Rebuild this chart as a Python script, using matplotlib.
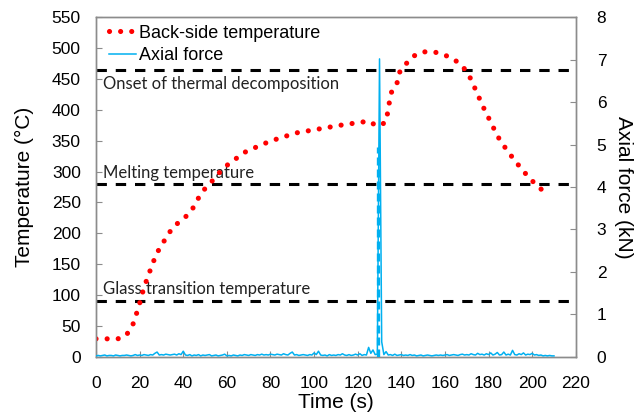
import numpy as np
import matplotlib

matplotlib.use("Agg")
import matplotlib.pyplot as plt

# back-side temperature
temp_time = [0, 5, 10, 13.7, 16.7, 18.2, 19.7, 20.9, 22.5, 24.1, 25.8, 27.6, 30.1,
             32.7, 35.3, 39.1, 42.8, 45.2, 47.4, 50.1, 52.6, 56.2, 60, 63.8, 68,
             72.4, 76.9, 81.3, 86, 90.7, 95.6, 100.5, 105.4, 110.3, 115.2, 120.1,
             125, 128.7, 132.6, 133.8, 134.5, 135.6, 138, 139, 142, 145.5, 150,
             155, 159.8, 164.1, 168, 170.9, 173, 175, 177.1, 179.3, 181.6, 183.7,
             186.3, 189.1, 191.9, 195.3, 198.5, 202.1, 205.8]
temp_vals = [29, 29, 29, 34, 50, 66, 82, 99, 117, 133, 149, 166, 181,
             196, 210, 221, 232, 245, 260, 273, 282, 297, 310, 320, 331,
             338, 345, 351, 356, 362, 365, 368, 371, 374, 377, 379,
             382, 374, 379, 396, 412, 430, 443, 460, 474, 487, 494,
             494, 489, 482, 471, 457, 441, 425, 408, 392, 376, 360,
             345, 332, 318, 304, 290, 278, 266]

# axial force, one sample per second from 0 to 210 s
force_vals = [
    0.02, 0.03, 0.02, 0.03, 0.04, 0.02, 0.03, 0.03, 0.02, 0.04,
    0.03, 0.02, 0.03, 0.03, 0.04, 0.03, 0.02, 0.03, 0.05, 0.03,
    0.04, 0.03, 0.05, 0.04, 0.03, 0.05, 0.04, 0.08, 0.11, 0.04,
    0.05, 0.04, 0.06, 0.05, 0.04, 0.05, 0.06, 0.04, 0.07, 0.05,
    0.13, 0.04, 0.03, 0.05, 0.02, 0.04, 0.03, 0.05, 0.02, 0.04,
    0.03, 0.04, 0.05, 0.02, 0.03, 0.04, 0.02, 0.03, 0.04, 0.06,
    0.02, 0.03, 0.02, 0.04, 0.03, 0.02, 0.04, 0.03, 0.05, 0.04,
    0.03, 0.05, 0.04, 0.03, 0.05, 0.04, 0.06, 0.04, 0.05, 0.04,
    0.06, 0.05, 0.04, 0.06, 0.05, 0.04, 0.07, 0.05, 0.04, 0.08,
    0.11, 0.04, 0.05, 0.03, 0.04, 0.05, 0.04, 0.03, 0.05, 0.04,
    0.09, 0.05, 0.13, 0.04, 0.03, 0.04, 0.02, 0.05, 0.03, 0.04,
    0.03, 0.05, 0.04, 0.07, 0.04, 0.03, 0.05, 0.03, 0.04, 0.06,
    0.04, 0.07, 0.03, 0.05, 0.04, 0.22, 0.08, 0.16, 0.05, 0.06,
    7.02, 0.35, 0.05, 0.12, 0.04, 0.05, 0.03, 0.06, 0.03, 0.04,
    0.05, 0.03, 0.04, 0.03, 0.05, 0.03, 0.04, 0.02, 0.03, 0.04,
    0.02, 0.03, 0.04, 0.03, 0.02, 0.03, 0.04, 0.03, 0.04, 0.03,
    0.04, 0.05, 0.03, 0.04, 0.05, 0.04, 0.03, 0.05, 0.06, 0.04,
    0.05, 0.04, 0.07, 0.05, 0.04, 0.08, 0.05, 0.06, 0.04, 0.07,
    0.05, 0.09, 0.04, 0.06, 0.10, 0.04, 0.05, 0.11, 0.04, 0.06,
    0.04, 0.15, 0.05, 0.04, 0.07, 0.05, 0.09, 0.04, 0.06, 0.05,
    0.08, 0.04, 0.05, 0.03, 0.04, 0.02, 0.03, 0.02, 0.03, 0.02,
    0.02,
]
force_time = np.arange(len(force_vals))

# vertical dashed marker at the force peak
event_time = 129.4
event_top = 4.95  # kN

ref_temps = [465, 280, 91]
ref_labels = ["Onset of thermal decomposition", "Melting temperature",
              "Glass transition temperature"]
ref_offsets = [-23, 18, 18]  # label offset in °C relative to the line

RED = "#FF0000"
BLUE = "#00B0F0"
SPINE = "#8C8C8C"

plt.rcParams["font.family"] = ["Liberation Sans", "DejaVu Sans"]

fig = plt.figure(figsize=(6.38, 4.16), dpi=100)
ax = fig.add_axes([0.1505, 0.1425, 0.752, 0.8159])
ax2 = ax.twinx()

for y, lab, off in zip(ref_temps, ref_labels, ref_offsets):
    ax.axhline(y, color="black", lw=2.2, ls=(0, (3.4, 2.9)), zorder=1)
    ax.text(3.2, y + off, lab, family=["Lato", "DejaVu Sans"], fontsize=12,
            ha="left", va="center", color="#222222", zorder=2)

temp_line, = ax.plot(temp_time, temp_vals, color=RED, lw=3.7,
                     ls=(0, (0.01, 2.15)), dash_capstyle="round", zorder=3,
                     label="Back-side temperature")

ax2.plot([event_time, event_time], [0, event_top], color=BLUE, lw=2.4,
         ls=(0, (2.4, 1.2)), zorder=3)
force_line, = ax2.plot(force_time, force_vals, color=BLUE, lw=1.1, zorder=4,
                       label="Axial force")

ax.set_xlim(0, 220)
ax.set_ylim(0, 550)
ax2.set_ylim(0, 8)
ax.set_xticks(np.arange(0, 221, 20))
ax.set_yticks(np.arange(0, 551, 50))
ax2.set_yticks(np.arange(0, 9, 1))

for a in (ax, ax2):
    for s in a.spines.values():
        s.set_color(SPINE)
        s.set_linewidth(1.0)
ax.tick_params(axis="x", direction="in", length=4, color=SPINE, labelsize=12.5, pad=14)
ax.tick_params(axis="y", direction="in", length=4, color=SPINE, labelsize=12.5, pad=11)
ax2.tick_params(axis="y", direction="in", length=4, color=SPINE, labelsize=12.5, pad=15)

ax.set_xlabel("Time (s)", fontsize=15, labelpad=1)
ax.set_ylabel("Temperature (°C)", fontsize=15, labelpad=13)
ax2.set_ylabel("Axial force (kN)", fontsize=15, rotation=270, labelpad=19)

ax2.legend([temp_line, force_line], ["Back-side temperature", "Axial force"],
           loc="upper left", bbox_to_anchor=(0.011, 1.0), frameon=False,
           fontsize=13, handlelength=1.5, handletextpad=0.2, labelspacing=0.3,
           borderaxespad=0)

fig.savefig("out.png", dpi=100)
